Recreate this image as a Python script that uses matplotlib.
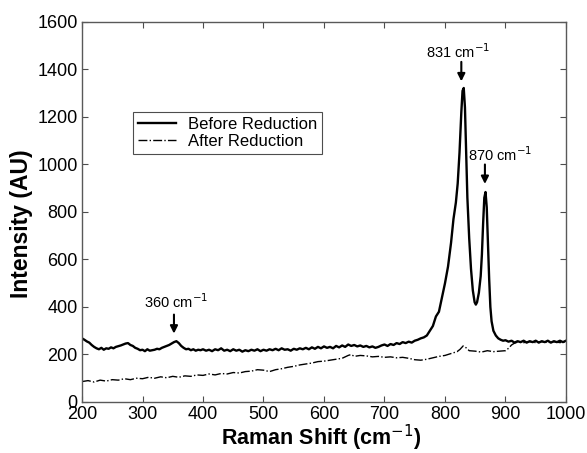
import matplotlib
matplotlib.use("Agg")
from matplotlib import pyplot as plt

plt.rcParams['font.family'] = ['Liberation Sans', 'DejaVu Sans']

# spectrum before reduction (Raman shift, intensity)
before_x = [200, 204, 208, 212, 216, 220, 224, 228, 232, 236, 240, 244, 248, 252, 256, 260, 264, 268,
            272, 276, 280, 284, 288, 292, 296, 300, 304, 308, 312, 316, 320, 324, 328, 332, 336, 340,
            344, 348, 352, 356, 360, 364, 368, 372, 376, 380, 384, 388, 392, 396, 400, 405, 410, 415,
            420, 425, 430, 435, 440, 445, 450, 455, 460, 465, 470, 475, 480, 485, 490, 495, 500, 505,
            510, 515, 520, 525, 530, 535, 540, 545, 550, 555, 560, 565, 570, 575, 580, 585, 590, 595,
            600, 605, 610, 615, 620, 625, 630, 635, 640, 645, 650, 655, 660, 665, 670, 675, 680, 685,
            690, 695, 700, 705, 710, 715, 720, 725, 730, 735, 740, 745, 750, 755, 760, 765, 770, 775,
            780, 785, 790, 795, 800, 805, 810, 814, 818, 821, 824, 827, 829, 831, 833, 835, 837, 840,
            843, 846, 849, 851, 853, 856, 859, 861, 863, 865, 867, 869, 871, 873, 875, 877, 880, 884,
            888, 892, 896, 900, 905, 910, 915, 920, 925, 930, 935, 940, 945, 950, 955, 960, 965, 970,
            975, 980, 985, 990, 995, 1000]
before_y = [268, 262, 255, 250, 240, 232, 226, 222, 228, 220, 226, 224, 230, 226, 232, 235, 238, 242,
            246, 248, 240, 236, 228, 224, 218, 220, 214, 222, 216, 218, 220, 224, 222, 228, 232, 236,
            240, 246, 252, 256, 248, 236, 228, 222, 224, 218, 222, 216, 220, 218, 222, 216, 220, 214,
            222, 218, 226, 216, 220, 214, 222, 216, 220, 212, 218, 214, 220, 216, 222, 214, 220, 216,
            222, 218, 224, 218, 226, 220, 222, 216, 224, 220, 226, 222, 228, 222, 230, 224, 232, 226,
            234, 228, 232, 226, 236, 230, 238, 232, 242, 236, 240, 234, 238, 232, 236, 230, 234, 228,
            232, 238, 242, 236, 244, 240, 248, 244, 252, 248, 254, 250, 258, 262, 268, 272, 280, 300,
            320, 360, 380, 440, 500, 570, 670, 770, 840, 920, 1050, 1220, 1310, 1322, 1240, 1050, 860, 690,
            560, 470, 420, 410, 420, 460, 530, 620, 750, 860, 884, 820, 670, 520, 400, 340, 300, 280,
            268, 262, 258, 260, 254, 258, 250, 256, 252, 258, 250, 256, 252, 258, 250, 256, 252, 258,
            250, 256, 252, 258, 252, 258]

# spectrum after reduction
after_x = [200, 210, 220, 230, 240, 250, 260, 270, 280, 290, 300, 310, 320, 330, 340, 350, 360, 370,
           380, 390, 400, 410, 420, 430, 440, 450, 460, 470, 480, 490, 500, 510, 520, 530, 540, 550,
           560, 570, 580, 590, 600, 610, 620, 630, 640, 645, 650, 660, 670, 680, 690, 700, 710, 720,
           730, 740, 750, 760, 770, 780, 790, 800, 810, 820, 825, 830, 835, 840, 850, 860, 870, 880,
           890, 900, 905, 910, 915, 920, 930, 940, 950, 960, 970, 980, 990, 1000]
after_y = [86, 90, 84, 92, 88, 94, 92, 98, 94, 100, 98, 104, 100, 106, 102, 108, 104, 110,
           108, 114, 112, 118, 114, 120, 118, 124, 122, 128, 130, 136, 134, 128, 136, 140, 146, 150,
           156, 160, 164, 170, 172, 176, 180, 184, 196, 200, 192, 196, 194, 190, 192, 188, 190, 186,
           188, 184, 178, 176, 180, 186, 192, 196, 204, 212, 222, 236, 228, 216, 214, 210, 216, 212,
           214, 216, 226, 240, 248, 252, 250, 254, 250, 254, 250, 254, 250, 254]

xticks = [200, 300, 400, 500, 600, 700, 800, 900, 1000]
yticks = [0, 200, 400, 600, 800, 1000, 1200, 1400, 1600]

fig = plt.figure(figsize=(5.87, 4.53), dpi=100)
ax = fig.add_axes([0.1397, 0.1126, 0.8245, 0.8389])

ax.plot(before_x, before_y, color='k', lw=1.7, label='Before Reduction')
ax.plot(after_x, after_y, color='k', lw=1.0, ls='-.', label='After Reduction')

ax.set_xlim(200, 1000)
ax.set_ylim(0, 1600)
ax.set_xticks(xticks)
ax.set_yticks(yticks)
ax.tick_params(direction='in', top=True, right=True, length=4, width=0.8,
               labelsize=13, color='0.3', pad=3)
for s in ax.spines.values():
    s.set_color('0.35')
    s.set_linewidth(1.0)

ax.set_xlabel('Raman Shift (cm$^{-1}$)', fontsize=15.5, fontweight='bold')
ax.set_ylabel('Intensity (AU)', fontsize=16.5, fontweight='bold')
ax.xaxis.set_label_coords(0.494, -0.056)
ax.yaxis.set_label_coords(-0.101, 0.47)

leg = ax.legend(loc='upper left', bbox_to_anchor=(0.105, 0.763), borderaxespad=0,
                fancybox=False, framealpha=1, edgecolor='0.3', fontsize=12,
                handlelength=2.3, handletextpad=0.7, labelspacing=0.1, borderpad=0.3)
leg.get_frame().set_linewidth(0.8)

arrow = dict(arrowstyle='-|>', color='k', lw=1.5, mutation_scale=11, shrinkA=0, shrinkB=0)
ax.annotate('', xy=(827, 1350), xytext=(827, 1432), arrowprops=arrow)
ax.text(822, 1475, '831 cm$^{-1}$', ha='center', va='center', fontsize=10.5)
ax.annotate('', xy=(866, 918), xytext=(866, 1000), arrowprops=arrow)
ax.text(891, 1040, '870 cm$^{-1}$', ha='center', va='center', fontsize=10.5)
ax.annotate('', xy=(352, 288), xytext=(352, 368), arrowprops=arrow)
ax.text(355, 421, '360 cm$^{-1}$', ha='center', va='center', fontsize=10.5)

fig.savefig('out.png', dpi=100)
